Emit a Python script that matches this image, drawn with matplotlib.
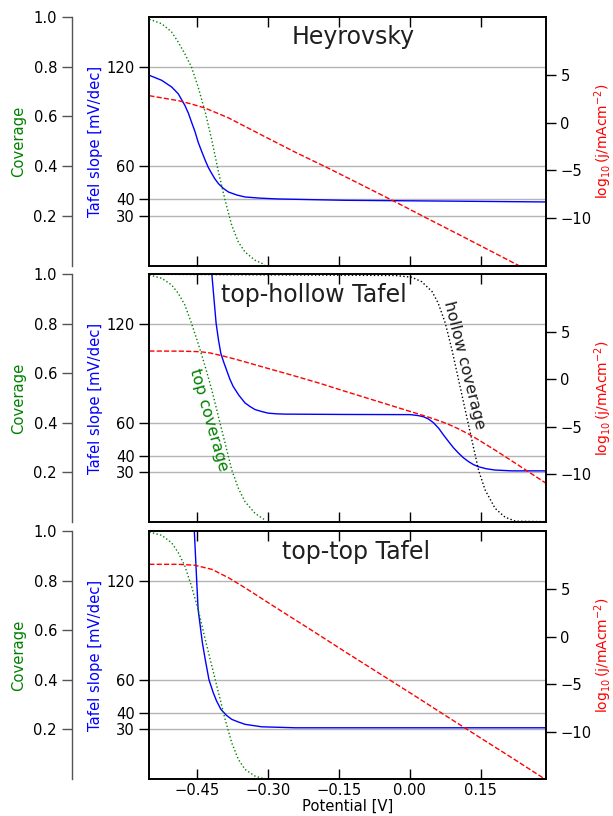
import matplotlib
matplotlib.use('Agg')
import matplotlib.pyplot as plt

# tick values and panel titles
panel_titles = ['Heyrovsky', 'top-hollow Tafel', 'top-top Tafel']
x_ticks = [-0.45, -0.30, -0.15, 0.00, 0.15]
tafel_ticks = [30, 40, 60, 120]
coverage_ticks = [0.2, 0.4, 0.6, 0.8, 1.0]
logj_ticks = [-10, -5, 0, 5]

# potential grid (V) used for the top-site coverage curves
cov_potential = [-0.550, -0.524, -0.503, -0.489, -0.475, -0.461, -0.447, -0.432,
                 -0.418, -0.404, -0.390, -0.376, -0.362, -0.348, -0.327, -0.306]

# --- Heyrovsky ---
hey_coverage = [0.990, 0.972, 0.939, 0.898, 0.851, 0.798, 0.718, 0.617,
                0.504, 0.376, 0.263, 0.162, 0.095, 0.055, 0.022, 0.004]
hey_tafel_potential = [-0.550, -0.524, -0.503, -0.489, -0.475, -0.4677, -0.461, -0.4536,
                       -0.447, -0.4394, -0.432, -0.4255, -0.418, -0.4113, -0.404, -0.3938,
                       -0.383, -0.3655, -0.348, -0.3163, -0.278, -0.137, 0.085, 0.287]
hey_tafel = [114.7, 111.7, 107.7, 103.6, 96.6, 92.0, 86.6, 80.8,
             74.5, 68.8, 63.5, 59.2, 55.4, 52.2, 49.4, 46.6,
             44.4, 42.6, 41.4, 40.7, 40.2, 39.4, 38.9, 38.4]
hey_logj_potential = [-0.550, -0.489, -0.461, -0.432, -0.383, -0.313, -0.242, -0.172,
                      -0.101, -0.031, 0.039, 0.110, 0.180, 0.229, 0.287]
hey_logj = [2.82, 2.30, 1.95, 1.52, 0.50, -1.30, -3.10, -4.78,
            -6.55, -8.30, -10.10, -11.90, -13.70, -14.96, -16.44]

# --- top-hollow Tafel ---
th_top_coverage = [0.997, 0.984, 0.957, 0.923, 0.876, 0.802, 0.721, 0.627,
                   0.532, 0.424, 0.317, 0.209, 0.135, 0.081, 0.034, 0.007]
th_hollow_potential = [-0.550, -0.031, 0.004, 0.025, 0.047, 0.060, 0.075, 0.089, 0.103,
                       0.117, 0.131, 0.145, 0.159, 0.180, 0.201, 0.223, 0.287]
th_hollow_coverage = [1.000, 0.995, 0.988, 0.970, 0.930, 0.883, 0.802, 0.694, 0.573,
                      0.451, 0.330, 0.209, 0.128, 0.054, 0.018, 0.002, 0.0]
th_tafel_potential = [-0.422, -0.418, -0.409, -0.4039, -0.399, -0.3927, -0.387, -0.3801,
                      -0.373, -0.3606, -0.348, -0.3374, -0.327, -0.3131, -0.299, -0.2825,
                      -0.264, -0.136, 0.001, 0.018, 0.0288, 0.039, 0.0499, 0.061,
                      0.0710, 0.082, 0.0922, 0.103, 0.1133, 0.124, 0.1344, 0.145,
                      0.1612, 0.180, 0.216, 0.287]
th_tafel = [170, 150, 120.3, 110, 102, 96.5, 92, 86.5,
            82, 76.5, 72, 69.8, 68, 66.8, 65.8, 65.4,
            65.2, 65.0, 64.9, 64.3, 63.6, 62.3, 60.0, 56.6,
            52.6, 48.5, 44.8, 41.5, 38.7, 36.4, 34.6, 33.3,
            32.1, 31.3, 30.8, 30.8]
th_logj_potential = [-0.550, -0.485, -0.443, -0.422, -0.396, -0.369, -0.337, -0.295,
                     -0.252, -0.189, -0.136, -0.062, 0.022, 0.039, 0.060, 0.081,
                     0.102, 0.123, 0.144, 0.180, 0.216, 0.287]
th_logj = [3.00, 2.99, 2.93, 2.80, 2.50, 2.15, 1.70, 1.10,
           0.50, -0.42, -1.26, -2.40, -3.70, -3.97, -4.32, -4.72,
           -5.19, -5.73, -6.34, -7.45, -8.61, -10.93]

# --- top-top Tafel ---
tt_coverage = [0.996, 0.983, 0.953, 0.913, 0.859, 0.778, 0.684, 0.563,
               0.456, 0.348, 0.241, 0.146, 0.079, 0.039, 0.012, 0.0]
tt_tafel_potential = [-0.4565, -0.455, -0.450, -0.447, -0.438, -0.432, -0.424, -0.415,
                      -0.408, -0.399, -0.387, -0.376, -0.362, -0.348, -0.313, -0.242, 0.287]
tt_tafel = [170, 150, 120, 102.6, 82.5, 72.4, 60, 52.2,
            47.2, 42.2, 38.5, 36.1, 34.5, 33.1, 31.6, 31.0, 31.0]
tt_logj_potential = [-0.550, -0.489, -0.454, -0.418, -0.383, -0.348, -0.278, -0.207,
                     -0.134, -0.066, 0.005, 0.075, 0.145, 0.216, 0.282, 0.287]
tt_logj = [7.60, 7.60, 7.50, 7.07, 6.19, 5.13, 2.89, 0.65,
           -1.69, -3.83, -6.07, -8.31, -10.54, -12.78, -14.90, -15.05]

panels = [
    dict(tafel=(hey_tafel_potential, hey_tafel),
         cov=[(cov_potential, hey_coverage, 'green')],
         logj=(hey_logj_potential, hey_logj)),
    dict(tafel=(th_tafel_potential, th_tafel),
         cov=[(cov_potential, th_top_coverage, 'green'),
              (th_hollow_potential, th_hollow_coverage, 'black')],
         logj=(th_logj_potential, th_logj)),
    dict(tafel=(tt_tafel_potential, tt_tafel),
         cov=[(cov_potential, tt_coverage, 'green')],
         logj=(tt_logj_potential, tt_logj)),
]

plt.rcParams['font.size'] = 10.6
plt.rcParams['axes.linewidth'] = 1.2

fig = plt.figure(figsize=(6.13, 8.16), dpi=100)

rects = [[0.2436, 0.6744, 0.6467, 0.3051],
         [0.2436, 0.3607, 0.6467, 0.3032],
         [0.2436, 0.0453, 0.6467, 0.3039]]
title_pos = [(0.514, 0.918), (0.415, 0.916), (0.522, 0.915)]

for i, (rect, p) in enumerate(zip(rects, panels)):
    # Tafel slope (host axes)
    ax = fig.add_axes(rect)
    ax.plot(*p['tafel'], color='blue', lw=1.0)
    ax.set_xlim(-0.55, 0.287)
    ax.set_ylim(0, 150)

    # coverage axis on an offset left spine
    axc = ax.twinx()
    for x, c, col in p['cov']:
        axc.plot(x, c, color=col, ls=':', lw=1.0)
    axc.set_ylim(0, 1)
    axc.set_yticks(coverage_ticks)
    axc.spines['left'].set_position(('outward', 55.9))
    axc.spines['left'].set_visible(True)
    axc.spines['left'].set_color('#555555')
    axc.spines['left'].set_linewidth(1.0)
    for s in ['right', 'top', 'bottom']:
        axc.spines[s].set_visible(False)
    axc.yaxis.set_ticks_position('left')
    axc.yaxis.set_label_position('left')
    axc.tick_params(axis='y', direction='out', length=7, width=1, color='#555555')
    axc.set_ylabel('Coverage', color='green')
    axc.yaxis.set_label_coords(-0.311, 0.5)

    # log current on the right
    axr = ax.twinx()
    axr.plot(*p['logj'], color='red', ls='--', lw=1.0)
    axr.set_ylim(-15, 11.1)
    axr.set_yticks(logj_ticks)
    axr.tick_params(axis='y', direction='out', length=7, width=1)
    axr.set_ylabel(r'$\log_{10}$(j/mAcm$^{-2}$)', color='red', fontsize=10)
    axr.yaxis.set_label_coords(1.118, 0.5)

    # host axis styling (after twinx, which resets tick sides)
    ax.set_yticks(tafel_ticks)
    ax.set_xticks(x_ticks)
    ax.yaxis.grid(True, color='#b4b4b4', lw=1)
    ax.set_axisbelow(True)
    ax.tick_params(axis='x', direction='in', top=True, bottom=True, length=7, width=1)
    ax.tick_params(axis='y', direction='out', length=7, width=1)
    ax.set_ylabel('Tafel slope [mV/dec]', color='blue')
    ax.yaxis.set_label_coords(-0.118, 0.5)
    if i < 2:
        ax.tick_params(labelbottom=False)
    else:
        ax.tick_params(axis='x', pad=3)
        ax.set_xlabel('Potential [V]', labelpad=0.5)

    tx, ty = title_pos[i]
    ax.text(tx, ty, panel_titles[i], transform=ax.transAxes, ha='center',
            va='center', fontsize=17, color='0.12')

    if i == 1:
        ax.text(0.149, 0.411, 'top coverage', transform=ax.transAxes, rotation=-74,
                rotation_mode='anchor', ha='center', va='center', color='green',
                fontsize=11.5)
        ax.text(0.794, 0.633, 'hollow coverage', transform=ax.transAxes, rotation=-76,
                rotation_mode='anchor', ha='center', va='center', color='0.1',
                fontsize=11.5)

fig.savefig('out.png', dpi=100)
